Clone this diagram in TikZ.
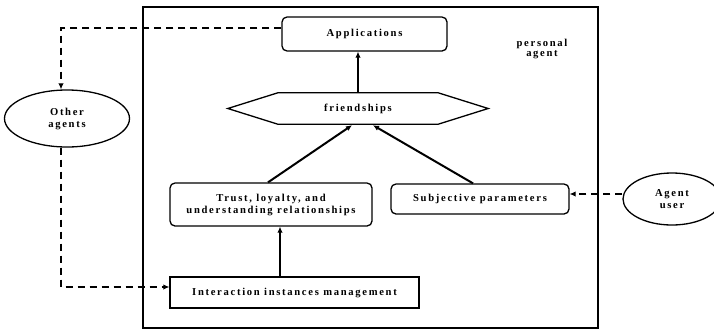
\documentclass[tikz,border=0pt]{standalone}
\usepackage{fontspec}
\setmainfont{Liberation Serif}[LetterSpace=16]
\usetikzlibrary{arrows.meta,shapes.geometric}
\begin{document}
\begin{tikzpicture}[x=1pt,y=-1pt,
  font=\fontsize{10.6}{12}\selectfont\bfseries,
  box/.style={draw,line width=1.3pt,rounded corners=5pt,align=center,inner sep=0pt},
  plainbox/.style={draw,line width=1.3pt,align=center,inner sep=0pt},
  oval/.style={draw,line width=1.3pt,ellipse,align=center,inner sep=0pt},
  arr/.style={line width=2pt,-{Latex[length=6pt,width=5.5pt]}},
  dasharr/.style={line width=1.8pt,dash pattern=on 7pt off 5pt,-{Latex[length=6pt,width=5.5pt]}}
]
\useasboundingbox (0,0) rectangle (714,330);

% personal agent frame
\draw[line width=2.6pt] (143,7) rectangle (598,328);
\node[align=center] (pa) at (542,49) {personal\\[-2pt]agent};

% inner blocks
\node[box,minimum width=165pt,minimum height=34pt] (app) at (364.5,34) {Applications};
\node[minimum width=260pt,minimum height=31pt,inner sep=0pt] (friend) at (358,108.5) {friendships};
\draw[line width=1.3pt] (friend.west) -- ([xshift=50pt]friend.north west)
  -- ([xshift=-50pt]friend.north east) -- (friend.east)
  -- ([xshift=-50pt]friend.south east) -- ([xshift=50pt]friend.south west) -- cycle;
\node[box,minimum width=202pt,minimum height=43pt] (trust) at (271,204.5)
  {Trust, loyalty, and\\understanding relationships};
\node[box,minimum width=178pt,minimum height=30pt] (subj) at (480,199) {Subjective parameters};
\node[plainbox,minimum width=249pt,minimum height=31pt] (inter) at (294.5,292.5)
  {Interaction instances management};

% outside actors
\node[oval,minimum width=125pt,minimum height=57pt] (other) at (67,118.5) {Other\\agents};
\node[oval,minimum width=98pt,minimum height=52pt] (user) at (672,199) {Agent\\user};

% solid flows
\draw[arr] (friend.north) -- (friend.north |- app.south);
\draw[arr] ([xshift=-3pt]trust.north) -- ([xshift=-6pt,yshift=-1pt]friend.south);
\draw[arr] ([xshift=-7pt]subj.north) -- ([xshift=15pt,yshift=-1pt]friend.south);
\draw[arr] ([xshift=-14.5pt]inter.north) -- ([xshift=-14.5pt]inter.north |- trust.south);

% dashed flows
\draw[dasharr] ([yshift=6pt]app.west) -| ([xshift=-6pt]other.north);
\draw[dasharr] ([xshift=-6pt]other.south) |- ([yshift=5.5pt]inter.west);
\draw[dasharr] ([yshift=5pt]subj.east -| user.west) -- ([yshift=5pt]subj.east);
\end{tikzpicture}
\end{document}
